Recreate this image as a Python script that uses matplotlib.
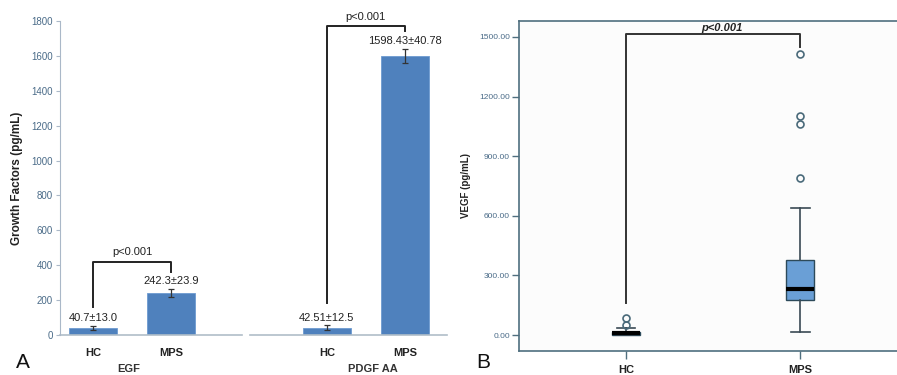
import matplotlib.pyplot as plt

plt.rcParams['font.family'] = ['Liberation Sans', 'DejaVu Sans']

# Panel A - growth factors (mean ± SD)
skupine = ['EGF', 'PDGF AA']
kategorije = ['HC', 'MPS', 'HC', 'MPS']
srednje = [40.7, 242.3, 42.51, 1598.43]
sd = [13.0, 23.9, 12.5, 40.78]
oznake = ['40.7±13.0', '242.3±23.9', '42.51±12.5', '1598.43±40.78']
polozaji = [0, 1, 3, 4]
a_yticks = [0, 200, 400, 600, 800, 1000, 1200, 1400, 1600, 1800]

# Panel B - VEGF box plot
vegf_stats = [
    dict(label='HC', whislo=0, q1=2, med=8, q3=15, whishi=33, fliers=[50, 87]),
    dict(label='MPS', whislo=17, q1=176, med=230, q3=377, whishi=641,
         fliers=[790, 1062, 1102, 1414]),
]
b_yticks = [0, 300, 600, 900, 1200, 1500]

fig = plt.figure(figsize=(8.97, 3.75), dpi=100)

# ---------------- A ----------------
ax = fig.add_axes([60 / 897, 40 / 375, 387 / 897, 314 / 375])
plava = '#4f81bd'
ax.bar(polozaji, srednje, width=0.62, color=plava, edgecolor='#6d9ad0', linewidth=0.6)
ax.errorbar(polozaji, srednje, yerr=sd, fmt='none', ecolor='#333333',
            elinewidth=0.9, capsize=2.5, capthick=0.9)
for x, m, s, t in zip(polozaji, srednje, sd, oznake):
    ax.annotate(t, (x, m + s), xytext=(0, 2), textcoords='offset points',
                ha='center', va='bottom', fontsize=8, color='#222222')

ax.set_xlim(-0.423, 4.54)
ax.set_ylim(0, 1800)
ax.set_yticks(a_yticks)
ax.set_xticks(polozaji)
ax.set_xticklabels(kategorije, fontsize=8, fontweight='bold', color='#222222')
ax.tick_params(axis='x', length=0, pad=9)
ax.tick_params(axis='y', labelsize=7, labelcolor='#4a6b88', color='#aab8c8',
               length=3, width=0.8, pad=2)
for sp in ['top', 'right', 'bottom']:
    ax.spines[sp].set_visible(False)
ax.spines['left'].set_color('#aab8c8')
ax.axhline(0, xmin=0, xmax=0.47, color='#b0bec8', lw=1.2, clip_on=False)
ax.axhline(0, xmin=0.491, xmax=1.0, color='#b0bec8', lw=1.2, clip_on=False)
ax.set_ylabel('Growth Factors (pg/mL)', fontsize=8.5, fontweight='bold',
              color='#222222', labelpad=6)

# zagrade: (x1, x2, lijevi pocetak, vrh, desni kraj)
zagrade = [(0, 1, 160, 420, 361), (3, 4, 183, 1770, 1743)]
for x1, x2, y1, yt, y2 in zagrade:
    ax.plot([x1, x1, x2, x2], [y1, yt, yt, y2], color='#222222', lw=1.4,
            clip_on=False)
    ax.text((x1 + x2) / 2, yt + 25, 'p<0.001', ha='center', va='bottom',
            fontsize=8, color='#222222', clip_on=False)

# nazivi skupina ispod osi
for g, gx in zip(skupine, [129, 373]):
    fig.text(gx / 897, 1.5 / 375, g, ha='center', va='bottom', fontsize=8,
             fontweight='bold', color='#333333')

fig.text(23 / 897, 13 / 375, 'A', fontsize=15, ha='center', va='center', color='#111111')

# ---------------- B ----------------
bx = fig.add_axes([519 / 897, 24 / 375, 386 / 897, 330 / 375])
bx.set_facecolor('#fcfcfc')
okvir = '#4f6f7f'
bx.bxp(vegf_stats, positions=[1, 2], widths=0.16, capwidths=0.105,
       patch_artist=True, showfliers=True,
       boxprops=dict(facecolor='#6a9fd6', edgecolor='#2d4a5a', linewidth=1.0),
       medianprops=dict(color='black', linewidth=3),
       whiskerprops=dict(color='#3a4a55', linewidth=1.2),
       capprops=dict(color='#3a4a55', linewidth=1.2),
       flierprops=dict(marker='o', markersize=5, markerfacecolor='none',
                       markeredgecolor='#4a6a7a', markeredgewidth=1.2))
bx.set_xlim(0.385, 2.60)
bx.set_ylim(-80.5, 1580.5)
bx.set_yticks(b_yticks)
bx.set_yticklabels([f'{v:.2f}' for v in b_yticks])
bx.tick_params(axis='y', labelsize=6, labelcolor='#4a6b88', color=okvir,
               length=5, width=1, pad=1.5)
bx.tick_params(axis='x', labelsize=8, labelcolor='#222222', color=okvir,
               length=6, width=1, pad=4)
for lab in bx.get_xticklabels():
    lab.set_fontweight('bold')
for sp in bx.spines.values():
    sp.set_color(okvir)
    sp.set_linewidth(1.2)
bx.set_ylabel('VEGF (pg/mL)', fontsize=7, fontweight='bold', color='#222222',
              labelpad=6)
bx.plot([1, 1, 2, 2], [160, 1514, 1514, 1450], color='#333333', lw=1.4)
bx.text(1.55, 1522, 'p<0.001', ha='center', va='bottom', fontsize=8,
        fontweight='bold', fontstyle='italic', color='#222222')

fig.text(483 / 897, 13 / 375, 'B', fontsize=15, ha='center', va='center', color='#111111')

fig.savefig('out.png', dpi=100)
